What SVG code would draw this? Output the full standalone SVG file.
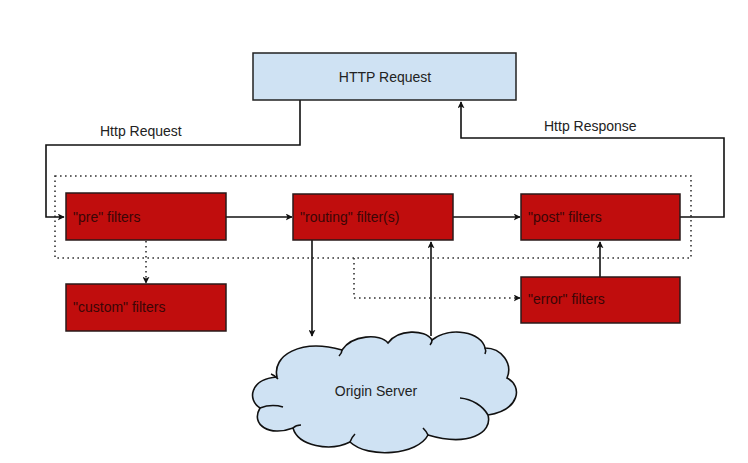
<svg xmlns="http://www.w3.org/2000/svg" width="748" height="463" viewBox="0 0 748 463">
<defs>
<marker id="ah" viewBox="0 0 10 10" refX="9" refY="5" markerWidth="7" markerHeight="7" orient="auto" markerUnits="userSpaceOnUse"><path d="M0,0 L10,5 L0,10 L2.5,5 z" fill="#111"/></marker>
<style>
.box{fill:#c00d0d;stroke:#2a1a1a;stroke-width:1.5}
.blue{fill:#cfe2f3;stroke:#222;stroke-width:1.5}
.bt{font-family:"Liberation Sans",Arial,sans-serif;font-size:14px;fill:#3a0606}
.lbl{font-family:"Liberation Sans",Arial,sans-serif;font-size:14px;fill:#222}
.ln{fill:none;stroke:#111;stroke-width:1.6}
.dot{fill:none;stroke:#333;stroke-width:1.6;stroke-dasharray:1.6 3.4}
</style>
</defs>
<rect width="748" height="463" fill="#fff"/>
<rect class="dot" x="55" y="176" width="636" height="82"/>
<g id="connectors">
<path class="ln" d="M300,100 V145 H46 V217 H64" marker-end="url(#ah)"/>
<path class="ln" d="M226,217 H292" marker-end="url(#ah)"/>
<path class="ln" d="M453,217 H520" marker-end="url(#ah)"/>
<path class="ln" d="M680,217 H724 V138 H461 V102" marker-end="url(#ah)"/>
<path class="dot" d="M146,241 V283" marker-end="url(#ah)"/>
<path class="ln" d="M312,240 V336" marker-end="url(#ah)"/>
<path class="ln" d="M431,336 V242" marker-end="url(#ah)"/>
<path class="dot" d="M354,258 V298 H520" marker-end="url(#ah)"/>
<path class="ln" d="M600,277 V242" marker-end="url(#ah)"/>
<text class="lbl" x="100" y="136">Http Request</text>
<text class="lbl" x="544" y="131">Http Response</text>
</g>
<g id="http-request">
<rect class="blue" x="253" y="53" width="263" height="47"/>
<text class="lbl" x="385" y="82" text-anchor="middle">HTTP Request</text>
</g>
<g id="pre-filters">
<rect class="box" x="66" y="193" width="160" height="47"/>
<text class="bt" x="73" y="222">"pre" filters</text>
</g>
<g id="routing-filters">
<rect class="box" x="293" y="194" width="160" height="46"/>
<text class="bt" x="300" y="222">"routing" filter(s)</text>
</g>
<g id="post-filters">
<rect class="box" x="521" y="194" width="159" height="46"/>
<text class="bt" x="528" y="222">"post" filters</text>
</g>
<g id="custom-filters">
<rect class="box" x="66" y="284" width="160" height="47"/>
<text class="bt" x="73" y="312">"custom" filters</text>
</g>
<g id="error-filters">
<rect class="box" x="521" y="277" width="159" height="46"/>
<text class="bt" x="528" y="304">"error" filters</text>
</g>
<g id="origin-server">
<path fill="#cfe2f3" stroke="#111" stroke-width="1.6" d="M277,377 C272,356 300,338 342,350 C352,335 380,333 388,343 C398,329 425,329 432,340 C450,326 482,332 485,348 C502,348 513,364 507,378 C523,386 520,410 488,415 C493,433 468,447 428,435 C418,455 368,459 350,442 C330,452 298,446 293,428 C270,437 250,425 260,408 C247,400 250,379 277,377 Z"/>
<path fill="none" stroke="#111" stroke-width="1.6" d="M271,374 C274,375 276,377 278,379 M260,408 C268,405 276,405 283,407 M342,350 C342,352 341,354 339,356 M432,340 C432,342 431,344 430,345 M485,348 C486,350 486,352 485,354 M460,398 C472,399 483,406 488,415 M428,435 C427,432 425,430 423,428 M350,442 C351,439 353,436 355,434 M293,428 C295,426 298,425 301,425"/>
<text class="lbl" x="376" y="396" text-anchor="middle">Origin Server</text>
</g>
</svg>
